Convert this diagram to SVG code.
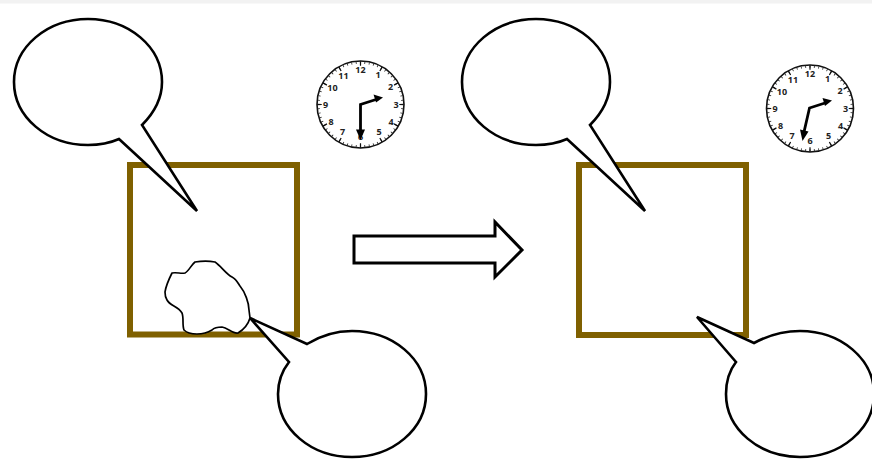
<svg xmlns="http://www.w3.org/2000/svg" width="872" height="460" viewBox="0 0 872 460">
  <style>
    .frame { fill: none; stroke: #7f6000; stroke-width: 6; }
    .bubble, .blob, .bigarrow { fill: #fff; stroke: #000; stroke-linejoin: miter; }
    .bubble { stroke-width: 2.6; }
    .blob { stroke-width: 1.7; stroke-linejoin: round; }
    .bigarrow { stroke-width: 3; }
    .face { fill: #fff; stroke: #111; stroke-width: 1.6; }
    .minor { fill: none; stroke: #222; stroke-width: 2.4; stroke-dasharray: 0.18 0.82; stroke-dashoffset: 0.09; }
    .major { fill: none; stroke: #111; stroke-width: 4.5; stroke-dasharray: 0.06 0.94; stroke-dashoffset: 0.03; }
    .hand { fill: none; stroke: #000; stroke-width: 2.8; }
    .head { fill: #000; stroke: none; }
    text { font-family: "Open Sans", "Liberation Sans", sans-serif; font-size: 9px; font-weight: 700; fill: #222; text-anchor: middle; }
  </style>

  <rect x="0" y="0" width="872" height="3.5" fill="#f2f2f2"/>

  <g id="room-before"><rect class="frame" x="130" y="165" width="167" height="169.500"/></g>
  <g id="room-after"><rect class="frame" x="579" y="165" width="167" height="170"/></g>

  <g id="blob">
    <path class="blob" d="M195 262 C201 261 210 261 215 262 C221 266 226 274 232 277 C236 279 238 283 240 286 C245 292 249 303 249 310 L250 318 C248 325 243 330 238 333 C233 334 228 328 222 327 C218 327 214 328 212 330 C207 333 202 334 197 334 C192 334 187 333 184 330 C182 325 184 318 182 313 C178 306 170 306 167 300 C165 297 165 295 165 292 C166 285 169 279 172 273 C177 272 181 274 185 273 C189 271 191 265 195 262 Z"/>
  </g>

  <g id="bubble-top-left">
    <path class="bubble" d="M119 139 L197 211 L142 125 C153 114 162 99 162 82 C162 47 129 19 88 19 C47 19 14 47 14 82 C14 117 47 145 88 145 C99 145 110 143 119 139 Z"/>
  </g>
  <g id="bubble-bottom-left">
    <path class="bubble" d="M250 318 L307 344 C320 336 335 331 352 331 C393 331 426 359 426 394 C426 429 393 457 352 457 C311 457 278 429 278 394 C278 382 282 371 289 362 Z"/>
  </g>
  <g id="bubble-top-right">
    <path class="bubble" d="M567 139 L645 211 L590 125 C601 114 610 99 610 82 C610 47 577 19 536 19 C495 19 462 47 462 82 C462 117 495 145 536 145 C547 145 558 143 567 139 Z"/>
  </g>
  <g id="bubble-bottom-right">
    <path class="bubble" d="M697 317 L754 343 C767 336 783 331 800 331 C841 331 874 359 874 394 C874 429 841 457 800 457 C759 457 726 429 726 394 C726 382 729 371 736 362 Z"/>
  </g>

  <g id="transition-arrow">
    <path class="bigarrow" d="M354 236 H495 V222 L522 250 L495 277 V263 H354 Z"/>
  </g>

  <g id="clock-before">
    <circle class="face" cx="360.500" cy="104.500" r="43.500"/>
    <circle class="minor" cx="360.500" cy="104.500" r="42" pathLength="60"/>
    <circle class="major" cx="360.500" cy="104.500" r="41" pathLength="12"/>
    <text x="360.500" y="73">12</text><text x="378" y="78">1</text><text x="390.500" y="90">2</text>
    <text x="396" y="107.500">3</text><text x="391" y="125">4</text><text x="379" y="135">5</text>
    <text x="360.500" y="140">6</text><text x="342.500" y="135">7</text><text x="331" y="125">8</text>
    <text x="325.500" y="107.500">9</text><text x="332.500" y="91">10</text><text x="343.500" y="79">11</text>
    <path class="hand" d="M376 99.500 L360.500 104.500 V131"/>
    <path class="head" d="M383 97.500 L373.500 94.500 L376 102.500 Z"/>
    <path class="head" d="M360.500 140 L356 129.500 H365 Z"/>
  </g>

  <g id="clock-after">
    <circle class="face" cx="810" cy="108.500" r="43.500"/>
    <circle class="minor" cx="810" cy="108.500" r="42" pathLength="60"/>
    <circle class="major" cx="810" cy="108.500" r="41" pathLength="12"/>
    <text x="810" y="77">12</text><text x="827.500" y="82">1</text><text x="840" y="94">2</text>
    <text x="845.500" y="111.500">3</text><text x="840.500" y="129">4</text><text x="828.500" y="139">5</text>
    <text x="810" y="144">6</text><text x="792" y="139">7</text><text x="780.500" y="129">8</text>
    <text x="775" y="111.500">9</text><text x="782" y="95">10</text><text x="793" y="83">11</text>
    <path class="hand" d="M825 103 L809.500 108 L804 132"/>
    <path class="head" d="M832 100.500 L822.500 98 L825 106 Z"/>
    <path class="head" d="M802.500 141 L800 129.500 L808.500 131.500 Z"/>
  </g>
</svg>
